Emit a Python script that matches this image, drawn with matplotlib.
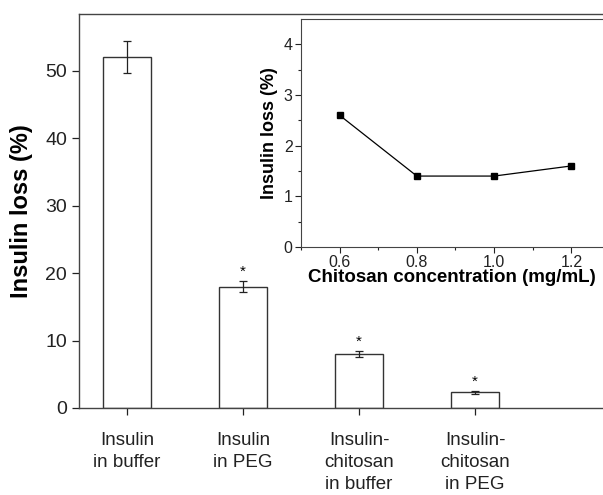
import matplotlib
matplotlib.use("Agg")
import matplotlib.pyplot as plt

plt.rcParams['font.family'] = ['Liberation Sans', 'DejaVu Sans']

categories = ["Insulin\nin buffer", "Insulin\nin PEG", "Insulin-\nchitosan\nin buffer", "Insulin-\nchitosan\nin PEG"]
loss = [52.0, 18.0, 8.0, 2.3]
loss_err = [2.4, 0.8, 0.4, 0.2]
significant = [False, True, True, True]

conc = [0.6, 0.8, 1.0, 1.2]
inset_loss = [2.6, 1.4, 1.4, 1.6]

fig = plt.figure(figsize=(6.03, 4.95), dpi=100)
ax = fig.add_axes([79/603, 1-408/495, 1-79/603, (408-14)/495])
x = list(range(len(categories)))
ax.bar(x, loss, width=0.41, color='white', edgecolor='#333333', linewidth=1.0,
       yerr=loss_err, error_kw=dict(ecolor='#222222', elinewidth=0.9, capsize=3, capthick=0.9))
for xi, v, e, s in zip(x, loss, loss_err, significant):
    if s:
        ax.text(xi, v + e + 0.4, '*', ha='center', va='bottom', fontsize=11)
ax.set_xlim(-0.414, 4.103)
ax.set_ylim(0, 58.4)
ax.set_xticks(x)
ax.set_xticklabels(categories, fontsize=13.5, linespacing=1.4)
ax.set_yticks([0, 10, 20, 30, 40, 50])
ax.tick_params(axis='y', labelsize=14, direction='out', length=5, width=0.9, colors='#222222')
ax.tick_params(axis='x', direction='out', length=5, width=0.9, pad=12, colors='#222222')
ax.spines['right'].set_visible(False)
for s in ['left', 'top', 'bottom']:
    ax.spines[s].set_color('#444444')
    ax.spines[s].set_linewidth(1.0)
ax.set_ylabel('Insulin loss (%)', fontsize=17, fontweight='bold', labelpad=9)

ins = fig.add_axes([301/603, 1-247/495, 1-301/603, (247-19)/495])
ins.plot(conc, inset_loss, color='black', linewidth=0.9, marker='s', markersize=5)
ins.set_xlim(0.5, 1.282)
ins.set_ylim(0, 4.5)
ins.set_xticks([0.6, 0.8, 1.0, 1.2])
ins.set_xticks([0.5, 0.7, 0.9, 1.1], minor=True)
ins.set_yticks([0, 1, 2, 3, 4])
ins.set_yticks([0.5, 1.5, 2.5, 3.5], minor=True)
ins.tick_params(which='major', labelsize=11.5, direction='out', length=4, width=0.8, colors='#222222', pad=2)
ins.tick_params(which='minor', direction='out', length=2.5, width=0.8, colors='#222222')
ins.spines['right'].set_visible(False)
for s in ['left', 'top', 'bottom']:
    ins.spines[s].set_color('#444444')
ins.set_xlabel('Chitosan concentration (mg/mL)', fontsize=13.5, fontweight='bold', labelpad=-1)
ins.set_ylabel('Insulin loss (%)', fontsize=13, fontweight='bold', labelpad=4)

fig.savefig('out.png', dpi=100)
